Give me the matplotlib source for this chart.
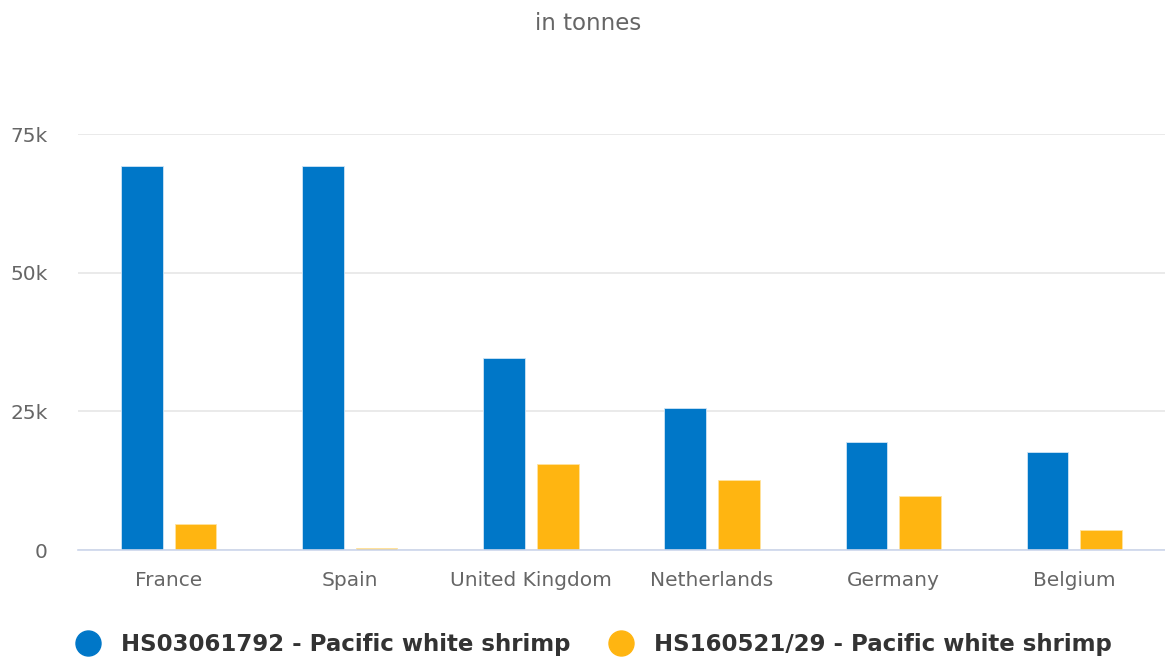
import matplotlib.pyplot as plt
import numpy as np
from matplotlib.lines import Line2D

plt.rcParams['font.family'] = ['DejaVu Sans']

countries = ['France', 'Spain', 'United Kingdom', 'Netherlands', 'Germany', 'Belgium']
fresh = [69200, 69200, 34600, 25600, 19500, 17700]      # HS03061792
prepared = [4700, 400, 15500, 12600, 9700, 3600]         # HS160521/29
series_names = ['HS03061792 - Pacific white shrimp', 'HS160521/29 - Pacific white shrimp']
yticks = [0, 25000, 50000, 75000]
ylabels = ['0', '25k', '50k', '75k']

blue = '#0077c8'
gold = '#ffb511'
grey = '#666666'

fig = plt.figure(figsize=(11.65, 6.57), dpi=100)
ax = fig.add_axes([78 / 1165, 1 - 550 / 657, 1 - 78 / 1165, (550 - 134) / 657])

x = np.arange(len(countries))
w = 0.23
ax.bar(x - 0.148, fresh, w, color=blue, edgecolor='#cfe4f5', linewidth=0.6, zorder=3)
ax.bar(x + 0.148, prepared, w, color=gold, edgecolor='#ffe3a0', linewidth=0.6, zorder=3)

ax.set_xlim(-0.5, len(countries) - 0.5)
ax.set_ylim(0, 75000)
ax.set_yticks(yticks)
ax.set_yticklabels(ylabels)
ax.set_xticks(x)
ax.set_xticklabels(countries)
ax.grid(axis='y', color='#e6e6e6', linewidth=1.2, zorder=0)
for s in ['top', 'right', 'left']:
    ax.spines[s].set_visible(False)
ax.spines['bottom'].set_color('#ccd6eb')
ax.spines['bottom'].set_linewidth(1.2)
ax.spines['bottom'].set_zorder(4)
ax.tick_params(axis='both', length=0, labelsize=14.5, labelcolor=grey)
ax.tick_params(axis='x', pad=15)
ax.tick_params(axis='y', pad=22)

fig.text(0.505, 1 - 24 / 657, 'in tonnes', ha='center', va='center', fontsize=16.5, color=grey)

handles = [Line2D([], [], marker='o', linestyle='none', markersize=18, color=c)
           for c in (blue, gold)]
fig.legend(handles, series_names, loc='center', bbox_to_anchor=(0.505, 1 - 645 / 657),
           ncol=2, frameon=False, handletextpad=0.45, columnspacing=1.2,
           prop={'weight': 'bold', 'size': 16.5}, labelcolor='#333333')

fig.savefig('out.png', dpi=100)
